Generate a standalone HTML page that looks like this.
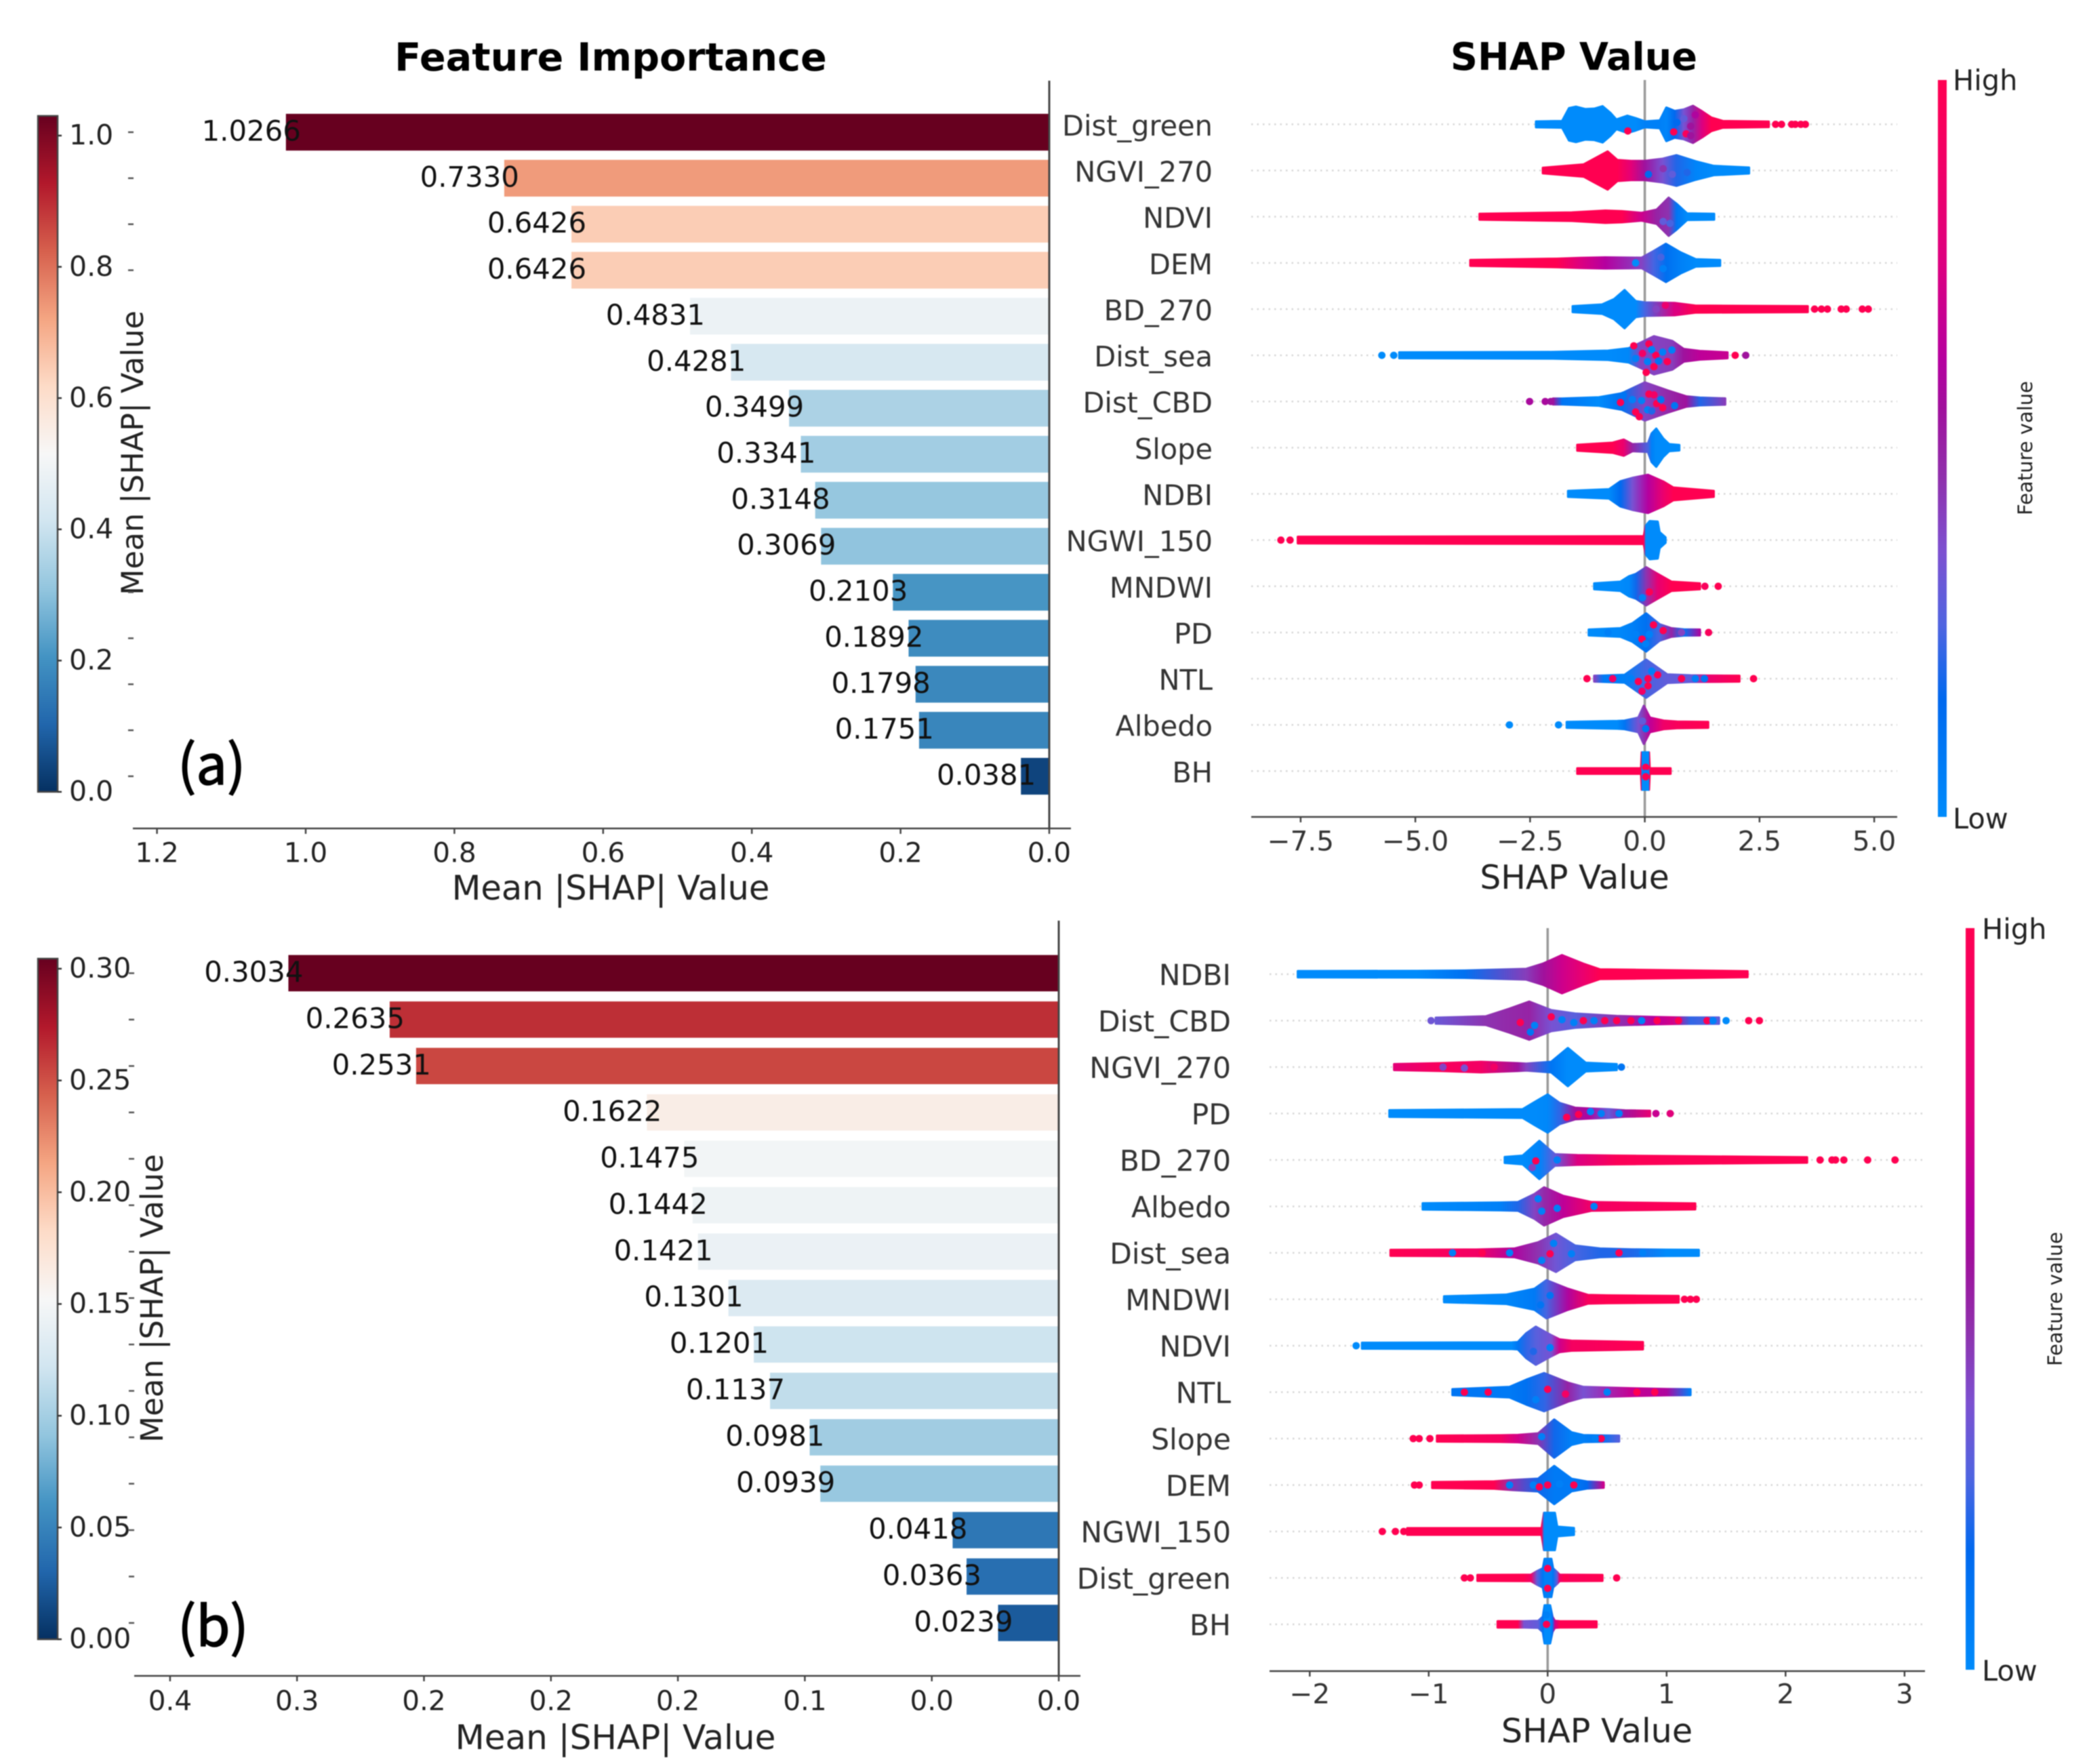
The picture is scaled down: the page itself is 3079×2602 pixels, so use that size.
<!DOCTYPE html>
<html lang="en">
<head>
<meta charset="utf-8">
<title>Feature Importance and SHAP Value</title>
<style>
html,body{margin:0;padding:0;background:#fff;}
svg{display:block;font-family:"DejaVu Sans","Liberation Sans",sans-serif;filter:blur(0.7px);}
</style>
</head>
<body>
<svg id="chart" xmlns="http://www.w3.org/2000/svg" width="3079" height="2602" viewBox="0 0 3079 2602">
<defs id="defs"></defs>
<rect x="0" y="0" width="3079" height="2602" fill="#fff"/>
<text x="901" y="104" font-size="57.2" font-weight="700" text-anchor="middle" fill="#000">Feature Importance</text>
<text x="2322" y="103" font-size="55.7" font-weight="700" text-anchor="middle" fill="#000">SHAP Value</text>
<text x="901" y="1327" font-size="49.6" text-anchor="middle" fill="#222">Mean |SHAP| Value</text>
<text x="908" y="2580" font-size="50" text-anchor="middle" fill="#222">Mean |SHAP| Value</text>
<text transform="translate(211,668) rotate(-90)" font-size="44.4" text-anchor="middle" fill="#222">Mean |SHAP| Value</text>
<text transform="translate(240,1915) rotate(-90)" font-size="45" text-anchor="middle" fill="#222">Mean |SHAP| Value</text>
<text x="2323" y="1311" font-size="48.7" text-anchor="middle" fill="#222">SHAP Value</text>
<text x="2356" y="2570" font-size="49.2" text-anchor="middle" fill="#222">SHAP Value</text>
<text x="262" y="1157" font-size="81" fill="#000" stroke="#000" stroke-width="1.6" style="font-family:'Noto Sans CJK SC','Liberation Sans',sans-serif">(a)</text>
<text x="262" y="2428" font-size="81" fill="#000" stroke="#000" stroke-width="1.6" style="font-family:'Noto Sans CJK SC','Liberation Sans',sans-serif">(b)</text>
<text x="2881" y="133" font-size="41.5" fill="#222">High</text>
<text x="2881" y="1222" font-size="41.5" fill="#222">Low</text>
<text x="2924" y="1385" font-size="41.5" fill="#222">High</text>
<text x="2924" y="2479" font-size="41.5" fill="#222">Low</text>
<text transform="translate(2998,661) rotate(-90)" font-size="29" text-anchor="middle" fill="#222">Feature value</text>
<text transform="translate(3042,1916) rotate(-90)" font-size="29" text-anchor="middle" fill="#222">Feature value</text>
<g id="layer-a"></g>
<g id="layer-b"></g>
</svg>
<script>
/* ---------- Panel (a) data ---------- */
const aBarFeatures = ['Dist_green','NGVI_270','NDVI','DEM','BD_270','Dist_sea','Dist_CBD','Slope','NDBI','NGWI_150','MNDWI','PD','NTL','Albedo','BH'];
const aBarValues = [1.0266,0.7330,0.6426,0.6426,0.4831,0.4281,0.3499,0.3341,0.3148,0.3069,0.2103,0.1892,0.1798,0.1751,0.0381];
const aBarTicks = [1.2,1.0,0.8,0.6,0.4,0.2,0.0];
const aBarTickLabels = ['1.2','1.0','0.8','0.6','0.4','0.2','0.0'];
const aColorTicks = [1.0,0.8,0.6,0.4,0.2,0.0];
const aColorTickLabels = ['1.0','0.8','0.6','0.4','0.2','0.0'];
const aShapTicks = [-7.5,-5,-2.5,0,2.5,5];
const aShapTickLabels = ['\u22127.5','\u22125.0','\u22122.5','0.0','2.5','5.0'];
const aVisibleRowTicks = [0,1,2,3,10,11,12,13,14];

/* each profile entry: [shap value, swarm density, feature value] */
const aDistGreen = [[-2.37,.15,0],[-1.8,.17,0],[-1.65,.85,0],[-1.5,.93,0],[-1.3,.8,0],[-1.1,.82,0],[-.92,.95,0],[-.75,.6,0],[-.62,.25,0],[-.38,.45,0],[-.2,.32,0],[0,.15,.05],[.33,.2,.05],[.47,.88,.03],[.65,.7,.15],[.85,.78,.35],[1.05,.97,.5],[1.25,.68,.75],[1.45,.35,1],[1.7,.17,1],[2.7,.14,1]];
const aNgvi270 = [[-2.22,.14,1],[-1.33,.32,1],[-1.13,.58,1],[-.81,1,1],[-.6,.55,1],[-.3,.5,.8],[0,.5,.55],[.39,.62,.35],[.69,.8,.2],[1.11,.48,.03],[1.5,.24,0],[2.27,.15,0]];
const aNdvi = [[-3.6,.15,1],[-1.59,.22,1],[-.86,.32,1],[-.5,.29,1],[-.07,.2,.7],[.26,.37,.5],[.52,1,.45],[.69,.68,.1],[.92,.17,0],[1.51,.15,0]];
const aDem = [[-3.8,.15,1],[-1.92,.22,1],[-1.4,.26,.75],[-.86,.29,.62],[-.07,.27,.4],[.19,.62,.25],[.46,1,.13],[.78,.55,.05],[1.11,.19,0],[1.64,.15,0]];
const aBd270 = [[-1.57,.15,0],[-.93,.24,0],[-.67,.52,0],[-.44,1,0],[-.2,.42,0],[0,.35,.25],[.65,.32,.75],[1.1,.18,1],[3.55,.15,1]];
const aDistSea = [[-5.35,.15,0],[-2,.17,0],[-.8,.24,0],[-.35,.37,.02],[-.1,.65,.4],[.2,1,.4],[.6,.75,.42],[.85,.33,.55],[1.2,.22,.65],[1.8,.15,.68]];
const aDistCbd = [[-2,.15,.55],[-1.8,.15,.1],[-1,.22,0],[-.5,.43,.12],[0,1,.4],[.5,.58,.48],[.9,.27,.55],[1.2,.2,.2],[1.75,.16,.42]];
const aSlope = [[-1.47,.15,1],[-.7,.26,1],[-.46,.42,.85],[-.27,.18,.5],[.07,.22,.25],[.15,.75,.05],[.25,1,0],[.4,.48,0],[.53,.18,0],[.75,.14,0]];
const aNdbi = [[-1.67,.15,0],[-.78,.24,0],[-.53,.66,.15],[-.27,.84,.35],[.07,1,.62],[.4,.65,.85],[.62,.33,1],[1.5,.15,1]];
const aNgwi150 = [[-7.56,.17,1],[-.02,.2,1],[.02,.75,0],[.11,1,0],[.28,.97,0],[.32,.42,0],[.45,.14,0]];
const aMndwi = [[-1.1,.15,0],[-.53,.24,0],[-.34,.53,.02],[-.19,.65,.18],[.03,1,.45],[.28,.65,.82],[.58,.24,1],[1.2,.15,1]];
const aPd = [[-1.22,.15,0],[-.53,.22,.02],[-.27,.48,.05],[.03,1,.12],[.32,.43,.25],[.58,.22,.5],[.85,.16,.1],[1.2,.15,.6]];
const aNtl = [[-1.1,.15,.4],[-.9,.16,.08],[-.44,.2,.05],[.03,1,.25],[.49,.22,.3],[1,.17,.3],[1.4,.16,.85],[2.06,.15,1]];
const aAlbedo = [[-1.7,.15,0],[-.6,.2,0],[-.44,.22,.1],[-.14,.38,.35],[-.02,1,.45],[.11,.38,.65],[.41,.22,.88],[.7,.17,.95],[1.38,.15,1]];
const aBh = [[-1.47,.14,1],[-.08,.14,1],[-.065,.98,0],[.09,.98,0],[.105,.14,1],[.56,.14,1]];
const aProfiles = [aDistGreen,aNgvi270,aNdvi,aDem,aBd270,aDistSea,aDistCbd,aSlope,aNdbi,aNgwi150,aMndwi,aPd,aNtl,aAlbedo,aBh];

/* outlying dots per row: [shap value, feature value] */
const aOutliers = [
 [[2.85,1],[2.98,1],[3.2,1],[3.28,1],[3.4,1],[3.5,1]],[],[],[],
 [[3.7,1],[3.85,1],[3.98,1],[4.28,1],[4.39,1],[4.74,1],[4.87,1]],
 [[-5.73,0],[-5.47,0],[1.97,1],[2.2,.55]],
 [[-2.51,.58],[-2.17,.58],[-2.05,.55]],
 [],[],
 [[-7.93,1],[-7.73,1]],
 [[1.31,.95],[1.6,1]],
 [[1.39,.95]],
 [[-1.26,1],[2.37,1]],
 [[-2.95,0],[-1.88,0]],
 []
];
/* visible dots inside the swarms: [shap value, row offset, feature value] */
const aSpeckles = [
 [[-.37,.35,1],[.63,.4,1],[.9,.5,.95],[.85,-.3,.3],[1,.1,.55],[1.1,-.5,.6],[.7,-.1,.15],[1,.6,.55]],
 [[.08,.2,.15],[.92,.1,.2],[.6,.2,.3],[.4,-.1,.45]],
 [[.4,.25,.3],[.55,.35,.25]],
 [[-.2,0,0],[.4,.3,.05],[.35,-.3,.25]],
 [[.25,0,.4],[.45,-.2,.85],[.7,0,.75]],
 [[.09,-.6,1],[.24,0,1],[-.24,-.5,1],[.03,.9,1],[.2,.6,1],[.49,.33,1],[.39,-.17,.05],[-.2,.17,.05],[.06,.33,.05],[.59,-.28,.05],[.15,-.3,.05],[.3,.3,.1],[-.05,-.1,.9]],
 [[-.2,.55,1],[.09,-.39,1],[.26,.11,1],[-.53,.05,1],[.39,.33,1],[-.27,-.1,.05],[-.07,-.05,.05],[.06,.44,.05],[.65,.22,.1],[-.47,-.33,.1],[.2,-.35,.9],[-.12,.8,1],[.35,-.1,.1],[.15,.5,.2]],
 [],[],[],
 [[-.05,.6,.05],[.1,.3,1]],
 [[.19,-.4,1],[-.06,.35,1],[.4,-.1,1],[.02,.6,.05],[-.2,.1,.05],[.1,.1,.05],[-.8,0,.05],[.8,0,.4]],
 [[.07,0,1],[.28,-.2,1],[-.14,.15,1],[.07,.38,1],[-.06,.66,.9],[.15,-.4,.05],[.8,0,1],[1.1,0,.05],[-.3,0,.05],[-.7,0,.9],[1.3,0,.1]],
 [[.02,.2,.1],[-.05,-.2,.3]],
 [[.02,-.2,1],[.02,.12,.05],[.02,.3,1]]
];

/* ---------- Panel (b) data ---------- */
const bBarFeatures = ['NDBI','Dist_CBD','NGVI_270','PD','BD_270','Albedo','Dist_sea','MNDWI','NDVI','NTL','Slope','DEM','NGWI_150','Dist_green','BH'];
const bBarValues = [0.3034,0.2635,0.2531,0.1622,0.1475,0.1442,0.1421,0.1301,0.1201,0.1137,0.0981,0.0939,0.0418,0.0363,0.0239];
const bBarTicks = [0.35,0.30,0.25,0.20,0.15,0.10,0.05,0.0];
const bBarTickLabels = ['0.4','0.3','0.2','0.2','0.2','0.1','0.0','0.0'];
const bColorTicks = [0.30,0.25,0.20,0.15,0.10,0.05,0.0];
const bColorTickLabels = ['0.30','0.25','0.20','0.15','0.10','0.05','0.00'];
const bShapTicks = [-2,-1,0,1,2,3];
const bShapTickLabels = ['\u22122','\u22121','0','1','2','3'];
const bVisibleRowTicks = [0,1,2,3,4,5,6,7,8,9,10,11,12,13,14];

const bNdbi = [[-2.1,.16,0],[-1.97,.16,0],[-1.1,.17,0],[-.7,.19,.12],[-.18,.28,.42],[-.04,.55,.55],[.12,1,.7],[.3,.55,.85],[.44,.25,1],[1.48,.17,1],[1.68,.15,1]];
const bDistCbd = [[-.94,.15,.32],[-.52,.22,.45],[-.32,.63,.48],[-.155,1,.5],[.03,.55,.35],[.23,.37,.28],[.58,.24,.45],[.9,.19,.62],[1.05,.17,.72],[1.2,.16,.22],[1.44,.16,.3]];
const bNgvi270 = [[-1.29,.15,.8],[-.9,.2,.95],[-.56,.27,.9],[-.25,.2,.55],[-.18,.18,.4],[.03,.27,.1],[.17,1,0],[.32,.22,0],[.58,.15,0]];
const bPd = [[-1.33,.17,0],[-.21,.22,0],[-.11,.6,0],[0,1,.02],[.1,.55,.22],[.23,.3,.55],[.35,.26,.6],[.51,.22,.3],[.65,.16,.55],[.86,.14,.82]];
const bBd270 = [[-.36,.15,0],[-.21,.22,0],[-.07,1,.03],[.06,.3,.3],[.25,.25,.75],[.58,.22,.97],[2.18,.14,1]];
const bAlbedo = [[-1.05,.16,0],[-.4,.2,.05],[-.25,.22,.2],[-.11,.65,.4],[-.03,1,.48],[.13,.55,.65],[.37,.22,.9],[1.24,.15,1]];
const bDistSea = [[-1.32,.15,1],[-.6,.17,.9],[-.28,.22,.6],[-.08,.55,.45],[.07,1,.33],[.23,.38,.25],[.44,.22,.2],[.7,.18,.2],[1,.16,0],[1.27,.15,0]];
const bMndwi = [[-.87,.15,0],[-.35,.24,.02],[-.11,.55,.08],[-.01,1,.25],[.17,.55,.6],[.34,.22,.95],[.5,.2,1],[1.1,.17,1]];
const bNdvi = [[-1.56,.15,0],[-.3,.17,0],[-.25,.19,.1],[-.18,.65,.22],[-.1,1,.28],[.03,.55,.35],[.1,.33,.7],[.2,.26,.92],[.8,.19,1]];
const bNtl = [[-.8,.15,.1],[-.32,.27,.08],[-.18,.65,.12],[-.03,1,.22],[.17,.5,.5],[.3,.27,.35],[.7,.2,.68],[1,.16,.6],[1.2,.15,.05]];
const bSlope = [[-.93,.15,1],[-.4,.17,.92],[-.25,.19,.72],[-.08,.27,.45],[.055,1,.18],[.2,.33,.05],[.3,.18,.05],[.45,.16,.1],[.6,.15,.28]];
const bDem = [[-.97,.15,1],[-.45,.19,1],[-.3,.26,.45],[-.08,.33,.18],[.055,1,.08],[.2,.33,.08],[.33,.18,.15],[.47,.14,.7]];
const bNgwi150 = [[-1.18,.17,1],[-.05,.17,1],[-.03,.98,0],[.06,.98,0],[.08,.25,0],[.22,.18,0]];
const bDistGreen = [[-.59,.15,1],[-.2,.16,1],[-.14,.16,.9],[-.09,.35,.3],[-.04,.5,.1],[-.025,1,.05],[.03,1,.05],[.045,.5,.1],[.08,.3,.3],[.1,.16,.9],[.15,.16,.95],[.46,.15,1]];
const bBh = [[-.42,.16,1],[-.25,.16,1],[-.2,.16,.35],[-.08,.18,.3],[-.04,.4,.1],[-.025,1,0],[.02,1,0],[.04,.4,.1],[.06,.18,.7],[.1,.16,1],[.41,.15,1]];
const bProfiles = [bNdbi,bDistCbd,bNgvi270,bPd,bBd270,bAlbedo,bDistSea,bMndwi,bNdvi,bNtl,bSlope,bDem,bNgwi150,bDistGreen,bBh];

const bOutliers = [
 [],
 [[-.98,.33],[1.5,0],[1.69,1],[1.78,1]],
 [[.62,.1]],
 [[.91,.68],[1.03,.78]],
 [[2.29,1],[2.39,1],[2.42,1],[2.49,1],[2.69,1],[2.92,1]],
 [],[],
 [[1.15,1],[1.2,1],[1.25,1]],
 [[-1.61,0]],
 [],
 [[-1.13,1],[-1.08,1],[-.99,1]],
 [[-1.12,1],[-1.08,1]],
 [[-1.39,1],[-1.28,1],[-1.21,1]],
 [[-.7,1],[-.65,1],[.58,1]],
 []
];
const bSpeckles = [
 [],
 [[.03,-.2,1],[-.23,.1,1],[.3,0,1],[.48,0,1],[.58,0,1],[.92,0,1],[.7,0,1],[1.1,0,1],[1.34,0,1],[.39,0,.05],[.79,0,.05],[1.39,0,.05],[-.11,.25,.05],[-.145,.6,.1],[.12,-.05,.05],[.22,.1,.05]],
 [[-.88,0,.4],[-.7,.05,.35],[-.45,0,.9]],
 [[.16,.2,1],[.26,.05,1],[.36,-.1,.05],[.45,0,.05],[.6,0,.05]],
 [[-.1,.05,1],[.08,0,.05],[-.13,.4,.4]],
 [[-.08,-.4,.05],[.08,.1,.05],[-.05,.25,.05],[.39,0,.05]],
 [[-.32,0,.05],[.02,.05,1],[.05,-.5,.05],[.2,.05,.05],[.6,0,1],[.8,0,.05],[-.8,0,.05],[-.05,.4,.05],[-.55,0,1]],
 [[-.06,.3,.1],[.02,-.2,.1]],
 [[.02,.1,.05],[-.12,.3,.2]],
 [[0,-.15,1],[-.7,0,1],[-.5,0,1],[.15,.1,.9],[.5,0,.05],[.75,0,1],[-.1,.4,.05],[.9,0,1]],
 [[-.05,-.1,.05],[.45,0,1],[.4,0,.05]],
 [[-.32,0,.05],[-.12,0,.05],[-.07,.1,1],[0,0,1],[.1,-.05,.05],[.22,0,1]],
 [],
 [[0,-.5,1],[.15,0,1],[0,.55,1]],
 [[-.01,0,1],[-.01,-.5,.05]]
];

/* ---------- Drawing ---------- */
const NS = 'http://www.w3.org/2000/svg';
const defsEl = document.getElementById('defs');
function mk(tag, attrs, parent) {
  const el = document.createElementNS(NS, tag);
  for (const k in attrs) el.setAttribute(k, attrs[k]);
  if (parent) parent.appendChild(el);
  return el;
}
const rdbuStops = [[5,48,97],[33,102,172],[67,147,195],[146,197,222],[209,229,240],[247,247,247],[253,219,199],[244,165,130],[214,96,77],[178,24,43],[103,0,31]];
function rdbu(t) {
  const c = Math.max(0, Math.min(1, t)) * 10, i = Math.min(9, Math.floor(c)), f = c - i;
  const a = rdbuStops[i], b = rdbuStops[i + 1];
  return 'rgb(' + [0,1,2].map(j => Math.round(a[j] + (b[j] - a[j]) * f)).join(',') + ')';
}
const shapStops = [[0,0,139,251],[.16,0,104,238],[.26,79,100,224],[.36,124,80,208],[.46,143,48,172],[.555,160,16,156],[.62,181,0,159],[.75,220,0,128],[.88,240,0,104],[1,255,0,81]];
function shapColor(t) {
  const v = Math.max(0, Math.min(1, t));
  let i = 0;
  while (i < shapStops.length - 2 && v > shapStops[i + 1][0]) i++;
  const a = shapStops[i], b = shapStops[i + 1], f = (v - a[0]) / (b[0] - a[0]);
  return 'rgb(' + [1,2,3].map(j => Math.round(a[j] + (b[j] - a[j]) * f)).join(',') + ')';
}
function addGradient(id, x1, y1, x2, y2, user, stops) {
  const attrs = {id: id, x1: x1, y1: y1, x2: x2, y2: y2};
  if (user) attrs.gradientUnits = 'userSpaceOnUse';
  const g = mk('linearGradient', attrs, defsEl);
  stops.forEach(s => mk('stop', {offset: s[0], 'stop-color': s[1]}, g));
}
addGradient('rdbu-grad', 0, 1, 0, 0, false, rdbuStops.map((c, i) => [i / 10, 'rgb(' + c.join(',') + ')']));
addGradient('shap-grad', 0, 1, 0, 0, false, shapStops.map(s => [s[0], shapColor(s[0])]));

function drawPanel(cfg, features, values, barTicks, barTickLabels, colorTicks, colorTickLabels, rowTicks, shapTicks, shapTickLabels, profiles, outliers, speckles) {
  const root = document.getElementById(cfg.layer);
  const barX = v => cfg.barZero - v * cfg.barScale;
  const barRow = i => cfg.barRow0 + i * cfg.barStep;
  const colorY = v => cfg.colorZero - v * cfg.colorScale;
  const shapX = v => cfg.shapZero + v * cfg.shapScale;
  const swarmRow = i => cfg.swarmRow0 + i * cfg.swarmStep;
  const maxValue = Math.max.apply(null, values);

  /* colour bar */
  const cb = mk('rect', {x: 56, y: colorY(cfg.colorMax), width: 29, height: colorY(0) - colorY(cfg.colorMax), fill: 'url(#rdbu-grad)', stroke: '#444', 'stroke-width': 2.5}, root);
  
  
  colorTicks.forEach((v, i) => {
    const t = mk('line', {x1: 85, x2: 91, y1: colorY(v), y2: colorY(v), stroke: '#333', 'stroke-width': 2.5}, root);
    
    
    const l = mk('text', {x: 102, y: colorY(v) + 13.2, 'font-size': 41, fill: '#222'}, root);
    l.textContent = colorTickLabels[i];
    
    
  });

  /* bars */
  values.forEach((v, i) => {
    const b = mk('rect', {x: barX(v), y: barRow(i) - cfg.barHeight / 2, width: barX(0) - barX(v), height: cfg.barHeight, fill: rdbu(v / maxValue)}, root);
    
    
  });
  rowTicks.forEach(i => {
    const t = mk('line', {x1: cfg.rowTickX, x2: cfg.rowTickX + 8, y1: barRow(i), y2: barRow(i), stroke: '#555', 'stroke-width': 2.5}, root);
    
    
  });
  values.forEach((v, i) => {
    const l = mk('text', {x: barX(v) + 22, y: barRow(i) + 12.5, 'font-size': 41.8, 'text-anchor': 'end', fill: '#111'}, root);
    l.textContent = v.toFixed(4);
    
    
  });

  /* bar axes */
  const vAxis = mk('line', {x1: barX(0), x2: barX(0), y1: cfg.barTop, y2: cfg.barBottom, stroke: '#444', 'stroke-width': 3}, root);
  
  
  const hAxis = mk('line', {x1: cfg.barAxisLeft, x2: cfg.barAxisRight, y1: cfg.barBottom, y2: cfg.barBottom, stroke: '#444', 'stroke-width': 2.5}, root);
  
  
  barTicks.forEach((v, i) => {
    const t = mk('line', {x1: barX(v), x2: barX(v), y1: cfg.barBottom, y2: cfg.barBottom + 8, stroke: '#444', 'stroke-width': 2.5}, root);
    
    
    const l = mk('text', {x: barX(v), y: cfg.barTickY + 13.4, 'font-size': 40.5, 'text-anchor': 'middle', fill: '#222'}, root);
    l.textContent = barTickLabels[i];
    
    
  });

  /* swarm panel background lines */
  features.forEach((f, i) => {
    const d = mk('line', {x1: cfg.swarmLeft, x2: cfg.swarmRight, y1: swarmRow(i), y2: swarmRow(i), stroke: '#d6d6d6', 'stroke-width': 2.5, 'stroke-dasharray': '2.5 6'}, root);
    
    
    const l = mk('text', {x: cfg.labelRight, y: swarmRow(i) + cfg.labelDy, 'font-size': cfg.labelSize, 'text-anchor': 'end', fill: '#333'}, root);
    l.textContent = f;
    
    
  });
  const zero = mk('line', {x1: shapX(0), x2: shapX(0), y1: cfg.swarmTop, y2: cfg.swarmBottom, stroke: '#999', 'stroke-width': 3.5}, root);
  
  

  /* swarm silhouettes */
  profiles.forEach((prof, i) => {
    const id = cfg.layer + '-swarm-grad-' + i;
    const first = prof[0][0], last = prof[prof.length - 1][0];
    addGradient(id, shapX(first), 0, shapX(last), 0, true, prof.map(p => [(p[0] - first) / (last - first), shapColor(p[2])]));
    const top = prof.map(p => shapX(p[0]).toFixed(1) + ',' + (swarmRow(i) - p[1] * cfg.swarmHalf).toFixed(1));
    const bot = prof.slice().reverse().map(p => shapX(p[0]).toFixed(1) + ',' + (swarmRow(i) + p[1] * cfg.swarmHalf).toFixed(1));
    const s = mk('path', {d: 'M' + top.concat(bot).join('L') + 'Z', fill: 'url(#' + id + ')', stroke: 'url(#' + id + ')', 'stroke-width': 3.5, 'stroke-linejoin': 'round'}, root);
    
    
  });
  outliers.forEach((row, i) => row.forEach(p => {
    const c = mk('circle', {cx: shapX(p[0]), cy: swarmRow(i), r: 5.4, fill: shapColor(p[1])}, root);
    
    
  }));
  speckles.forEach((row, i) => row.forEach(p => {
    const c = mk('circle', {cx: shapX(p[0]), cy: swarmRow(i) + p[1] * cfg.swarmHalf, r: 5.4, fill: shapColor(p[2])}, root);
    
    
  }));

  /* shap axis */
  const sAxis = mk('line', {x1: cfg.swarmLeft, x2: cfg.swarmRight, y1: cfg.swarmBottom, y2: cfg.swarmBottom, stroke: '#444', 'stroke-width': 2.5}, root);
  
  
  shapTicks.forEach((v, i) => {
    const t = mk('line', {x1: shapX(v), x2: shapX(v), y1: cfg.swarmBottom, y2: cfg.swarmBottom + 8, stroke: '#444', 'stroke-width': 2.5}, root);
    
    
    const l = mk('text', {x: shapX(v), y: cfg.swarmTickY + 14.6, 'font-size': 40.5, 'text-anchor': 'middle', fill: '#333'}, root);
    l.textContent = shapTickLabels[i];
    
    
  });

  /* feature value colour bar */
  const fb = mk('rect', {x: cfg.featBarX, y: cfg.swarmTop, width: 13, height: cfg.featBarBottom - cfg.swarmTop, fill: 'url(#shap-grad)'}, root);
  
  
}

drawPanel({layer:'layer-a', barZero:1548, barScale:1097, barRow0:195, barStep:67.86, barHeight:54.2, colorZero:1168, colorScale:968, colorMax:1.03, rowTickX:189, barTop:119, barBottom:1222, barAxisLeft:196, barAxisRight:1580, barTickY:1258, shapZero:2426.6, shapScale:67.7, swarmRow0:183.4, swarmStep:68.14, swarmHalf:28, swarmLeft:1846, swarmRight:2799, swarmTop:118, swarmBottom:1205, labelRight:1789, labelDy:16.5, labelSize:41.5, swarmTickY:1240, featBarX:2859, featBarBottom:1205},
  aBarFeatures, aBarValues, aBarTicks, aBarTickLabels, aColorTicks, aColorTickLabels, aVisibleRowTicks, aShapTicks, aShapTickLabels, aProfiles, aOutliers, aSpeckles);

drawPanel({layer:'layer-b', barZero:1562, barScale:3746, barRow0:1435.5, barStep:68.46, barHeight:53.6, colorZero:2418, colorScale:3297, colorMax:0.3045, rowTickX:190, barTop:1358, barBottom:2472, barAxisLeft:198, barAxisRight:1594, barTickY:2509, shapZero:2283.3, shapScale:175.5, swarmRow0:1437, swarmStep:68.5, swarmHalf:28, swarmLeft:1873, swarmRight:2840, swarmTop:1369, swarmBottom:2465, labelRight:1816, labelDy:16, labelSize:42.5, swarmTickY:2498, featBarX:2900, featBarBottom:2463},
  bBarFeatures, bBarValues, bBarTicks, bBarTickLabels, bColorTicks, bColorTickLabels, bVisibleRowTicks, bShapTicks, bShapTickLabels, bProfiles, bOutliers, bSpeckles);
</script>
</body>
</html>
